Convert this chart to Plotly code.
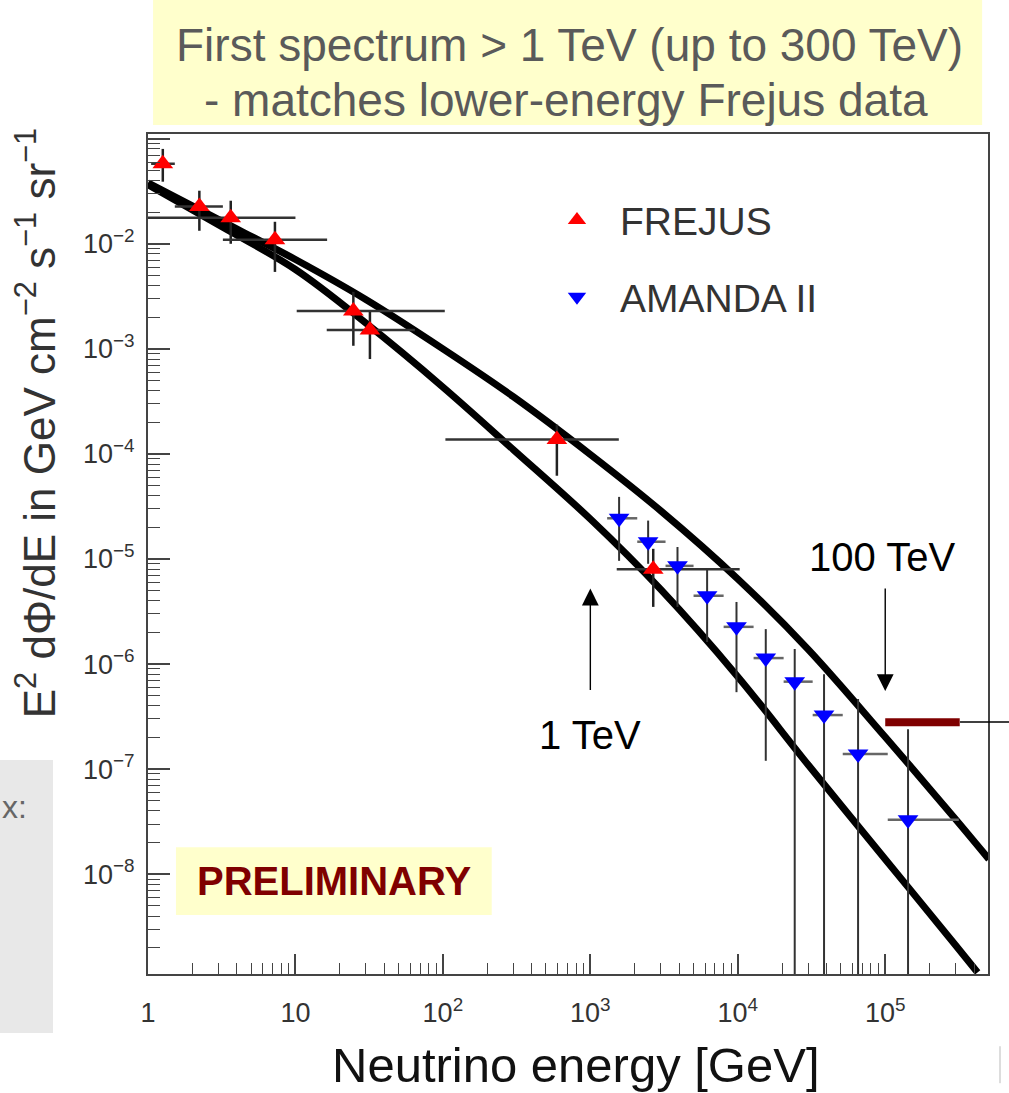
import plotly.graph_objects as go

# ---------------- data ----------------
frejus_E = [1.26, 2.23, 3.64, 7.26, 24.7, 32.0, 593, 2670]
frejus_flux = [0.0578, 0.0226, 0.0177, 0.0109, 0.00229, 0.00151, 1.37e-4, 8.0e-6]
frejus_flux_lo = [0.039, 0.0133, 0.0100, 0.0054, 0.00107, 0.00080, 6.2e-5, 3.5e-6]
frejus_flux_hi = [0.080, 0.032, 0.0257, 0.0162, 0.00349, 0.00225, 1.9e-4, 1.25e-5]
frejus_E_lo = [1.05, 1.52, 1.0, 3.22, 10.2, 16.3, 104, 1510]
frejus_E_hi = [1.52, 3.22, 10.0, 16.4, 103, 64.6, 1560, 10300]

amanda_E = [1567, 2466, 3900, 6194, 9800, 15480, 24330, 38460, 65430, 142800]
amanda_flux = [2.44e-5, 1.46e-5, 8.6e-6, 4.47e-6, 2.26e-6, 1.14e-6, 6.8e-7, 3.27e-7, 1.39e-7, 3.3e-8]
amanda_flux_lo = [9.6e-6, 9.0e-6, 3.5e-6, 1.62e-6, 5.4e-7, 1.2e-7, 0, 0, 0, 0]  # 0 = bar to zero
amanda_flux_hi = [3.9e-5, 2.32e-5, 1.3e-5, 8.04e-6, 3.9e-6, 2.15e-6, 1.39e-6, 8.0e-7, 4.64e-7, 2.4e-7]
amanda_E_lo = [1300, 2080, 3236, 5012, 8017, 12800, 20460, 32200, 51500, 104000]
amanda_E_hi = [2080, 3236, 5012, 8017, 12800, 20460, 32200, 51500, 104000, 315500]

upper_E = [1, 3, 10, 30, 100, 300, 1e3, 3e3, 1e4, 3e4, 1e5, 3e5, 5.05e5]
upper_flux = [3.80e-2, 1.706e-2, 7.08e-3, 2.95e-3, 1.0e-3, 3.51e-4, 9.89e-5, 2.88e-5,
              6.46e-6, 1.38e-6, 2.02e-7, 3.34e-8, 1.39e-8]
lower_E = [1, 3, 10, 30, 100, 300, 1e3, 3e3, 1e4, 3e4, 1e5, 3e5, 4.23e5]
lower_flux = [3.65e-2, 1.52e-2, 5.69e-3, 1.76e-3, 4.33e-4, 1.10e-4, 2.40e-5, 5.13e-6,
              7.59e-7, 1.10e-7, 1.39e-8, 2.11e-9, 1.16e-9]

range_E = [1e5, 3.2e5]           # 100 - 300 TeV bar
range_flux = [2.8e-7, 2.8e-7]

x_tickvals = [1, 10, 100, 1e3, 1e4, 1e5]
x_ticktext = ["1", "10", "10<sup>2</sup>", "10<sup>3</sup>", "10<sup>4</sup>", "10<sup>5</sup>"]
y_tickvals = [1e-8, 1e-7, 1e-6, 1e-5, 1e-4, 1e-3, 1e-2, 1e-1]
y_ticktext = ["10<sup>\u22128</sup>", "10<sup>\u22127</sup>", "10<sup>\u22126</sup>",
              "10<sup>\u22125</sup>", "10<sup>\u22124</sup>", "10<sup>\u22123</sup>",
              "10<sup>\u22122</sup>", ""]


def minus(v, lo):
    return [a - (b if b > 0 else a * 1e-6) for a, b in zip(v, lo)]


def plus(v, hi):
    return [b - a for a, b in zip(v, hi)]


FONT = "Liberation Sans, Arial, Helvetica, sans-serif"

fig = go.Figure()

for xs, ys in ((upper_E, upper_flux), (lower_E, lower_flux)):
    fig.add_trace(go.Scatter(x=xs, y=ys, mode="lines", line=dict(color="black", width=7, shape="spline"),
                             showlegend=False, hoverinfo="skip"))

fig.add_trace(go.Scatter(
    x=frejus_E, y=frejus_flux, mode="markers", name="FREJUS", legendgroup="f",
    marker=dict(symbol="triangle-up", size=18, color="#ff0000"),
    error_y=dict(type="data", symmetric=False, array=plus(frejus_flux, frejus_flux_hi),
                 arrayminus=minus(frejus_flux, frejus_flux_lo), color="#222", thickness=2.5, width=0),
    error_x=dict(type="data", symmetric=False, array=plus(frejus_E, frejus_E_hi),
                 arrayminus=minus(frejus_E, frejus_E_lo), color="#333", thickness=2.5, width=0),
))

fig.add_trace(go.Scatter(
    x=amanda_E, y=amanda_flux, mode="markers", name="AMANDA II", legendgroup="a",
    marker=dict(symbol="triangle-down", size=18, color="#0000ff"),
    error_y=dict(type="data", symmetric=False, array=plus(amanda_flux, amanda_flux_hi),
                 arrayminus=minus(amanda_flux, amanda_flux_lo), color="#333", thickness=2, width=0),
    error_x=dict(type="data", symmetric=False, array=plus(amanda_E, amanda_E_hi),
                 arrayminus=minus(amanda_E, amanda_E_lo), color="#666", thickness=2.5, width=0),
))

fig.add_trace(go.Scatter(x=range_E, y=range_flux, mode="lines", line=dict(color="#7f0000", width=8),
                         showlegend=False, hoverinfo="skip"))

axis_common = dict(type="log", showgrid=False, zeroline=False, showline=True, linecolor="#444",
                   linewidth=2, mirror=True, ticks="inside", tickcolor="#444", tickwidth=1.5,
                   tickmode="array", tickfont=dict(family=FONT, size=27, color="#333"))

fig.update_xaxes(**axis_common, range=[0, 5.697], tickvals=x_tickvals, ticktext=x_ticktext,
                 ticklen=20, ticklabelstandoff=14,
                 minor=dict(ticks="inside", ticklen=11, tickcolor="#444", tickwidth=1.2, dtick="D1"))
fig.update_yaxes(**axis_common, range=[-8.95, -0.955], tickvals=y_tickvals, ticktext=y_ticktext,
                 ticklen=22, ticklabelstandoff=6,
                 minor=dict(ticks="inside", ticklen=12, tickcolor="#444", tickwidth=1.2, dtick="D1"))

shapes = [
    dict(type="rect", xref="paper", yref="paper", x0=0.006, x1=0.993, y0=1.0107, y1=1.1595,
         fillcolor="#ffffcc", line=dict(width=0)),
    dict(type="rect", xref="paper", yref="paper", x0=0.0333, x1=0.4092, y0=0.0702, y1=0.1508,
         fillcolor="#ffffcc", line=dict(width=0)),
    dict(type="rect", xref="paper", yref="paper", x0=-0.1762, x1=-0.1131, y0=-0.0702, y1=0.2548,
         fillcolor="#e8e8e8", line=dict(width=0)),
    dict(type="line", xref="paper", yref="paper", x0=0.9667, x1=1.03, y0=0.3, y1=0.3,
         line=dict(color="black", width=1.5)),
    dict(type="line", xref="paper", yref="paper", x0=1.0143, x1=1.0143, y0=-0.086, y1=-0.130,
         line=dict(color="#dddddd", width=2)),
]

C = dict(xanchor="center", yanchor="middle", showarrow=False)
annotations = [
    dict(text="First spectrum > 1 TeV (up to 300 TeV)", xref="paper", yref="paper", x=0.5012, y=1.106,
         font=dict(family=FONT, size=46, color="#5a5a5a"), **C),
    dict(text="- matches lower-energy Frejus data", xref="paper", yref="paper", x=0.4976, y=1.0405,
         font=dict(family=FONT, size=46, color="#5a5a5a"), **C),
    dict(text="<b>PRELIMINARY</b>", xref="paper", yref="paper", x=0.2213, y=0.1107,
         font=dict(family=FONT, size=40, color="#7f0000"), **C),
    dict(text="Neutrino energy [GeV]", xref="paper", yref="paper", x=0.5101, y=-0.1085,
         font=dict(family=FONT, size=49, color="#111"), **C),
    dict(text="E<sup>2</sup> d\u03a6/dE in GeV cm<sup>\u22122</sup> s<sup>\u22121</sup> sr<sup>\u22121</sup>",
         xref="paper", yref="paper", x=-0.133, y=0.656, textangle=-90,
         font=dict(family=FONT, size=44, color="#333"), **C),
    dict(text="x:", xref="paper", yref="paper", x=-0.1762, y=0.1988, xanchor="left", yanchor="middle",
         showarrow=False, font=dict(family=FONT, size=32, color="#666")),
    dict(text="1 TeV", xref="x", yref="y", x=3.0, y=-6.679,
         font=dict(family=FONT, size=40, color="black"), **C),
    dict(text="100 TeV", xref="x", yref="y", x=4.98, y=-4.984,
         font=dict(family=FONT, size=40, color="black"), **C),
    dict(text="", xref="x", yref="y", x=3.0, y=-5.282, ax=0, ay=103, showarrow=True,
         arrowhead=2, arrowsize=2.4, arrowwidth=1.4, arrowcolor="black", standoff=0),
    dict(text="", xref="x", yref="y", x=5.0, y=-6.257, ax=0, ay=-104, showarrow=True,
         arrowhead=2, arrowsize=2.4, arrowwidth=1.4, arrowcolor="black", standoff=0),
]

fig.update_layout(
    width=1009, height=1093, margin=dict(l=148, r=21, t=134, b=119),
    paper_bgcolor="white", plot_bgcolor="white",
    font=dict(family=FONT, color="#333"),
    shapes=shapes, annotations=annotations,
    legend=dict(x=0.4595, y=0.9355, xanchor="left", yanchor="top", bgcolor="rgba(0,0,0,0)",
                font=dict(family=FONT, size=39, color="#333"), itemwidth=76,
                tracegroupgap=23, traceorder="grouped"),
)

fig.write_html("out.html", config={"displayModeBar": False},
               post_script="document.body.style.margin='0px';")
